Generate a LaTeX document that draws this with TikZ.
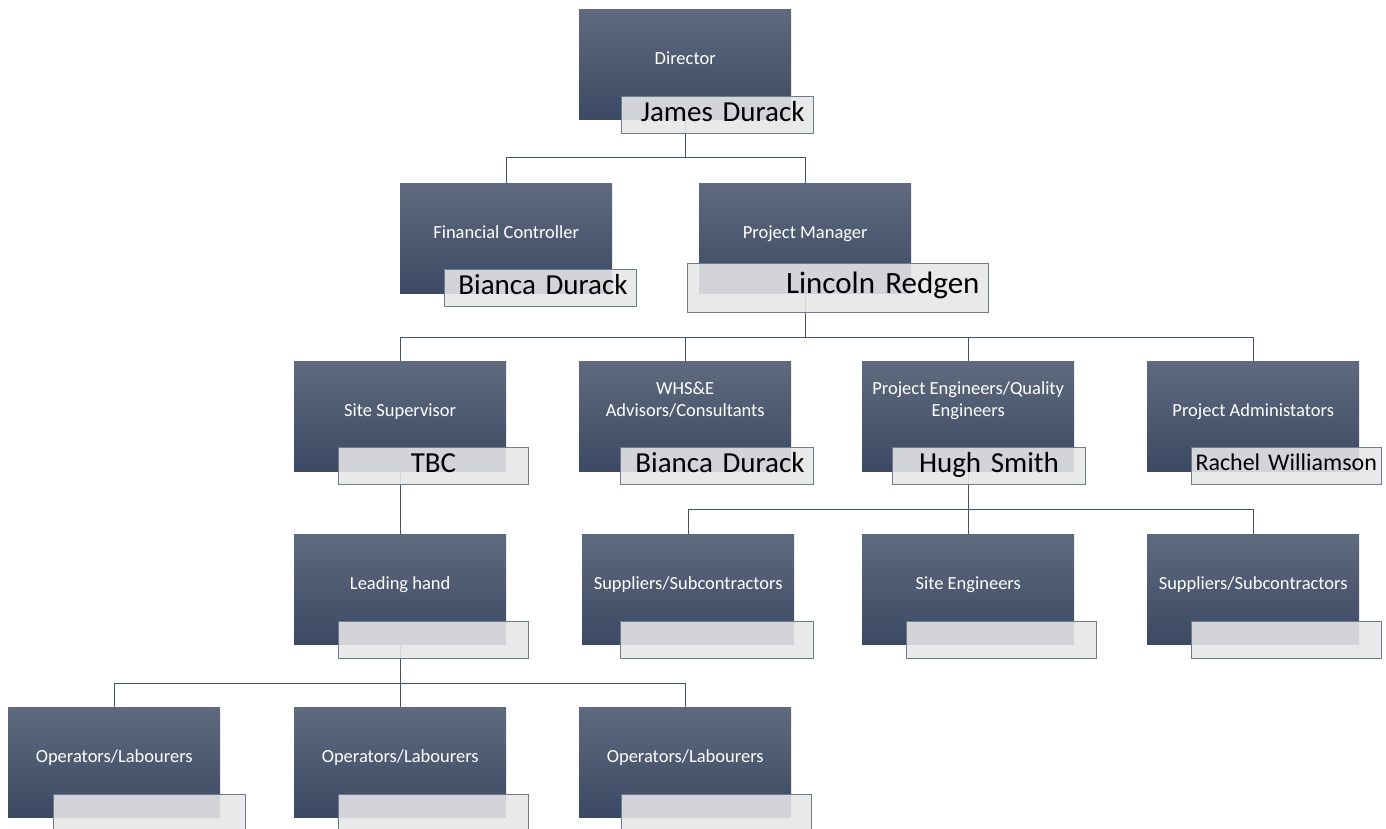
\documentclass[tikz,border=0pt]{standalone}
\usepackage{fontspec}
\setmainfont{Carlito}
\usetikzlibrary{calc}
\definecolor{boxtop}{RGB}{96,106,126}
\definecolor{boxbot}{RGB}{59,73,99}
\definecolor{lineclr}{RGB}{68,84,108}
\definecolor{nameborder}{RGB}{110,122,142}
\definecolor{namefill}{RGB}{231,231,231}
\tikzset{
  rolebox/.style={rectangle, anchor=north west, minimum width=212pt, minimum height=110pt,
    inner sep=0pt, top color=boxtop, bottom color=boxbot, draw=none,
    text=white, align=center, font=\fontsize{18.5}{22}\selectfont,
    text height=10pt, text depth=10pt},
  namebox/.style={rectangle, anchor=north west, draw=nameborder, line width=1pt,
    fill=namefill, fill opacity=0.88, text opacity=1, text=black,
    inner xsep=9pt, inner ysep=0pt, minimum height=37pt, text width=#1,
    align=right, font=\fontsize{29}{32}\selectfont, text height=20pt, text depth=7pt},
  conn/.style={draw=lineclr, line width=1.1pt},
}
\begin{document}
\begin{tikzpicture}[x=1pt,y=-1pt]
\fill[white] (0,0) rectangle (1386,829);
\useasboundingbox (0,0) rectangle (1386,829);

% role boxes
\node[rolebox] (dir) at (579,9) {Director};
\node[rolebox] (fc) at (400,183) {Financial Controller};
\node[rolebox] (pm) at (699,183) {Project Manager};
\node[rolebox] (ss) at (294,361) {Site Supervisor};
\node[rolebox] (whs) at (579,361) {WHS\&E\\Advisors/Consultants};
\node[rolebox] (pe) at (862,361) {Project Engineers/Quality\\Engineers};
\node[rolebox] (pa) at (1147,361) {Project Administators};
\node[rolebox] (lh) at (294,534) {Leading hand};
\node[rolebox] (sup1) at (582,534) {Suppliers/Subcontractors};
\node[rolebox] (se) at (862,534) {Site Engineers};
\node[rolebox] (sup2) at (1147,534) {Suppliers/Subcontractors};
\node[rolebox] (op1) at (8,707) {Operators/Labourers};
\node[rolebox] (op2) at (294,707) {Operators/Labourers};
\node[rolebox] (op3) at (579,707) {Operators/Labourers};

% connectors
\draw[conn] (dir.south) -- ++(0,38) -| (fc.north);
\draw[conn] (dir.south) -- ++(0,38) -| (pm.north);
\draw[conn] (pm.south) -- ++(0,44) -| (ss.north);
\draw[conn] (pm.south) -- ++(0,44) -| (whs.north);
\draw[conn] (pm.south) -- ++(0,44) -| (pe.north);
\draw[conn] (pm.south) -- ++(0,44) -| (pa.north);
\draw[conn] (ss.south) -- (lh.north);
\draw[conn] (pe.south) -- ++(0,38) -| (sup1.north);
\draw[conn] (pe.south) -- ++(0,38) -| (se.north);
\draw[conn] (pe.south) -- ++(0,38) -| (sup2.north);
\draw[conn] (lh.south) -- ++(0,39) -| (op1.north);
\draw[conn] (lh.south) -- ++(0,39) -| (op2.north);
\draw[conn] (lh.south) -- ++(0,39) -| (op3.north);

% name boxes
\node[namebox=174pt] (ndir) at (621,96) {James Durack};
\node[namebox=174pt] (nfc) at (444,269) {Bianca Durack};
\node[namebox=283pt, minimum height=49pt, font=\fontsize{31}{34}\selectfont,
      text height=21pt, text depth=10pt] (npm) at (687,263) {Lincoln Redgen};
\node[namebox=172pt, align=center] (nss) at (338,447) {TBC};
\node[namebox=175pt] (nwhs) at (620,447) {Bianca Durack};
\node[namebox=175pt, align=center] (npe) at (892,447) {Hugh Smith};
\node[namebox=182pt, inner xsep=4pt, align=left, font=\fontsize{24}{27}\selectfont,
      text height=17pt, text depth=9pt] (npa) at (1191,447) {Rachel Williamson};
\node[namebox=172pt] (nlh) at (338,621) {};
\node[namebox=175pt] (nsup1) at (620,621) {};
\node[namebox=172pt] (nse) at (906,621) {};
\node[namebox=172pt] (nsup2) at (1191,621) {};
\node[namebox=174pt] (nop1) at (53,794) {};
\node[namebox=172pt] (nop2) at (338,794) {};
\node[namebox=172pt] (nop3) at (621,794) {};
\end{tikzpicture}
\end{document}
